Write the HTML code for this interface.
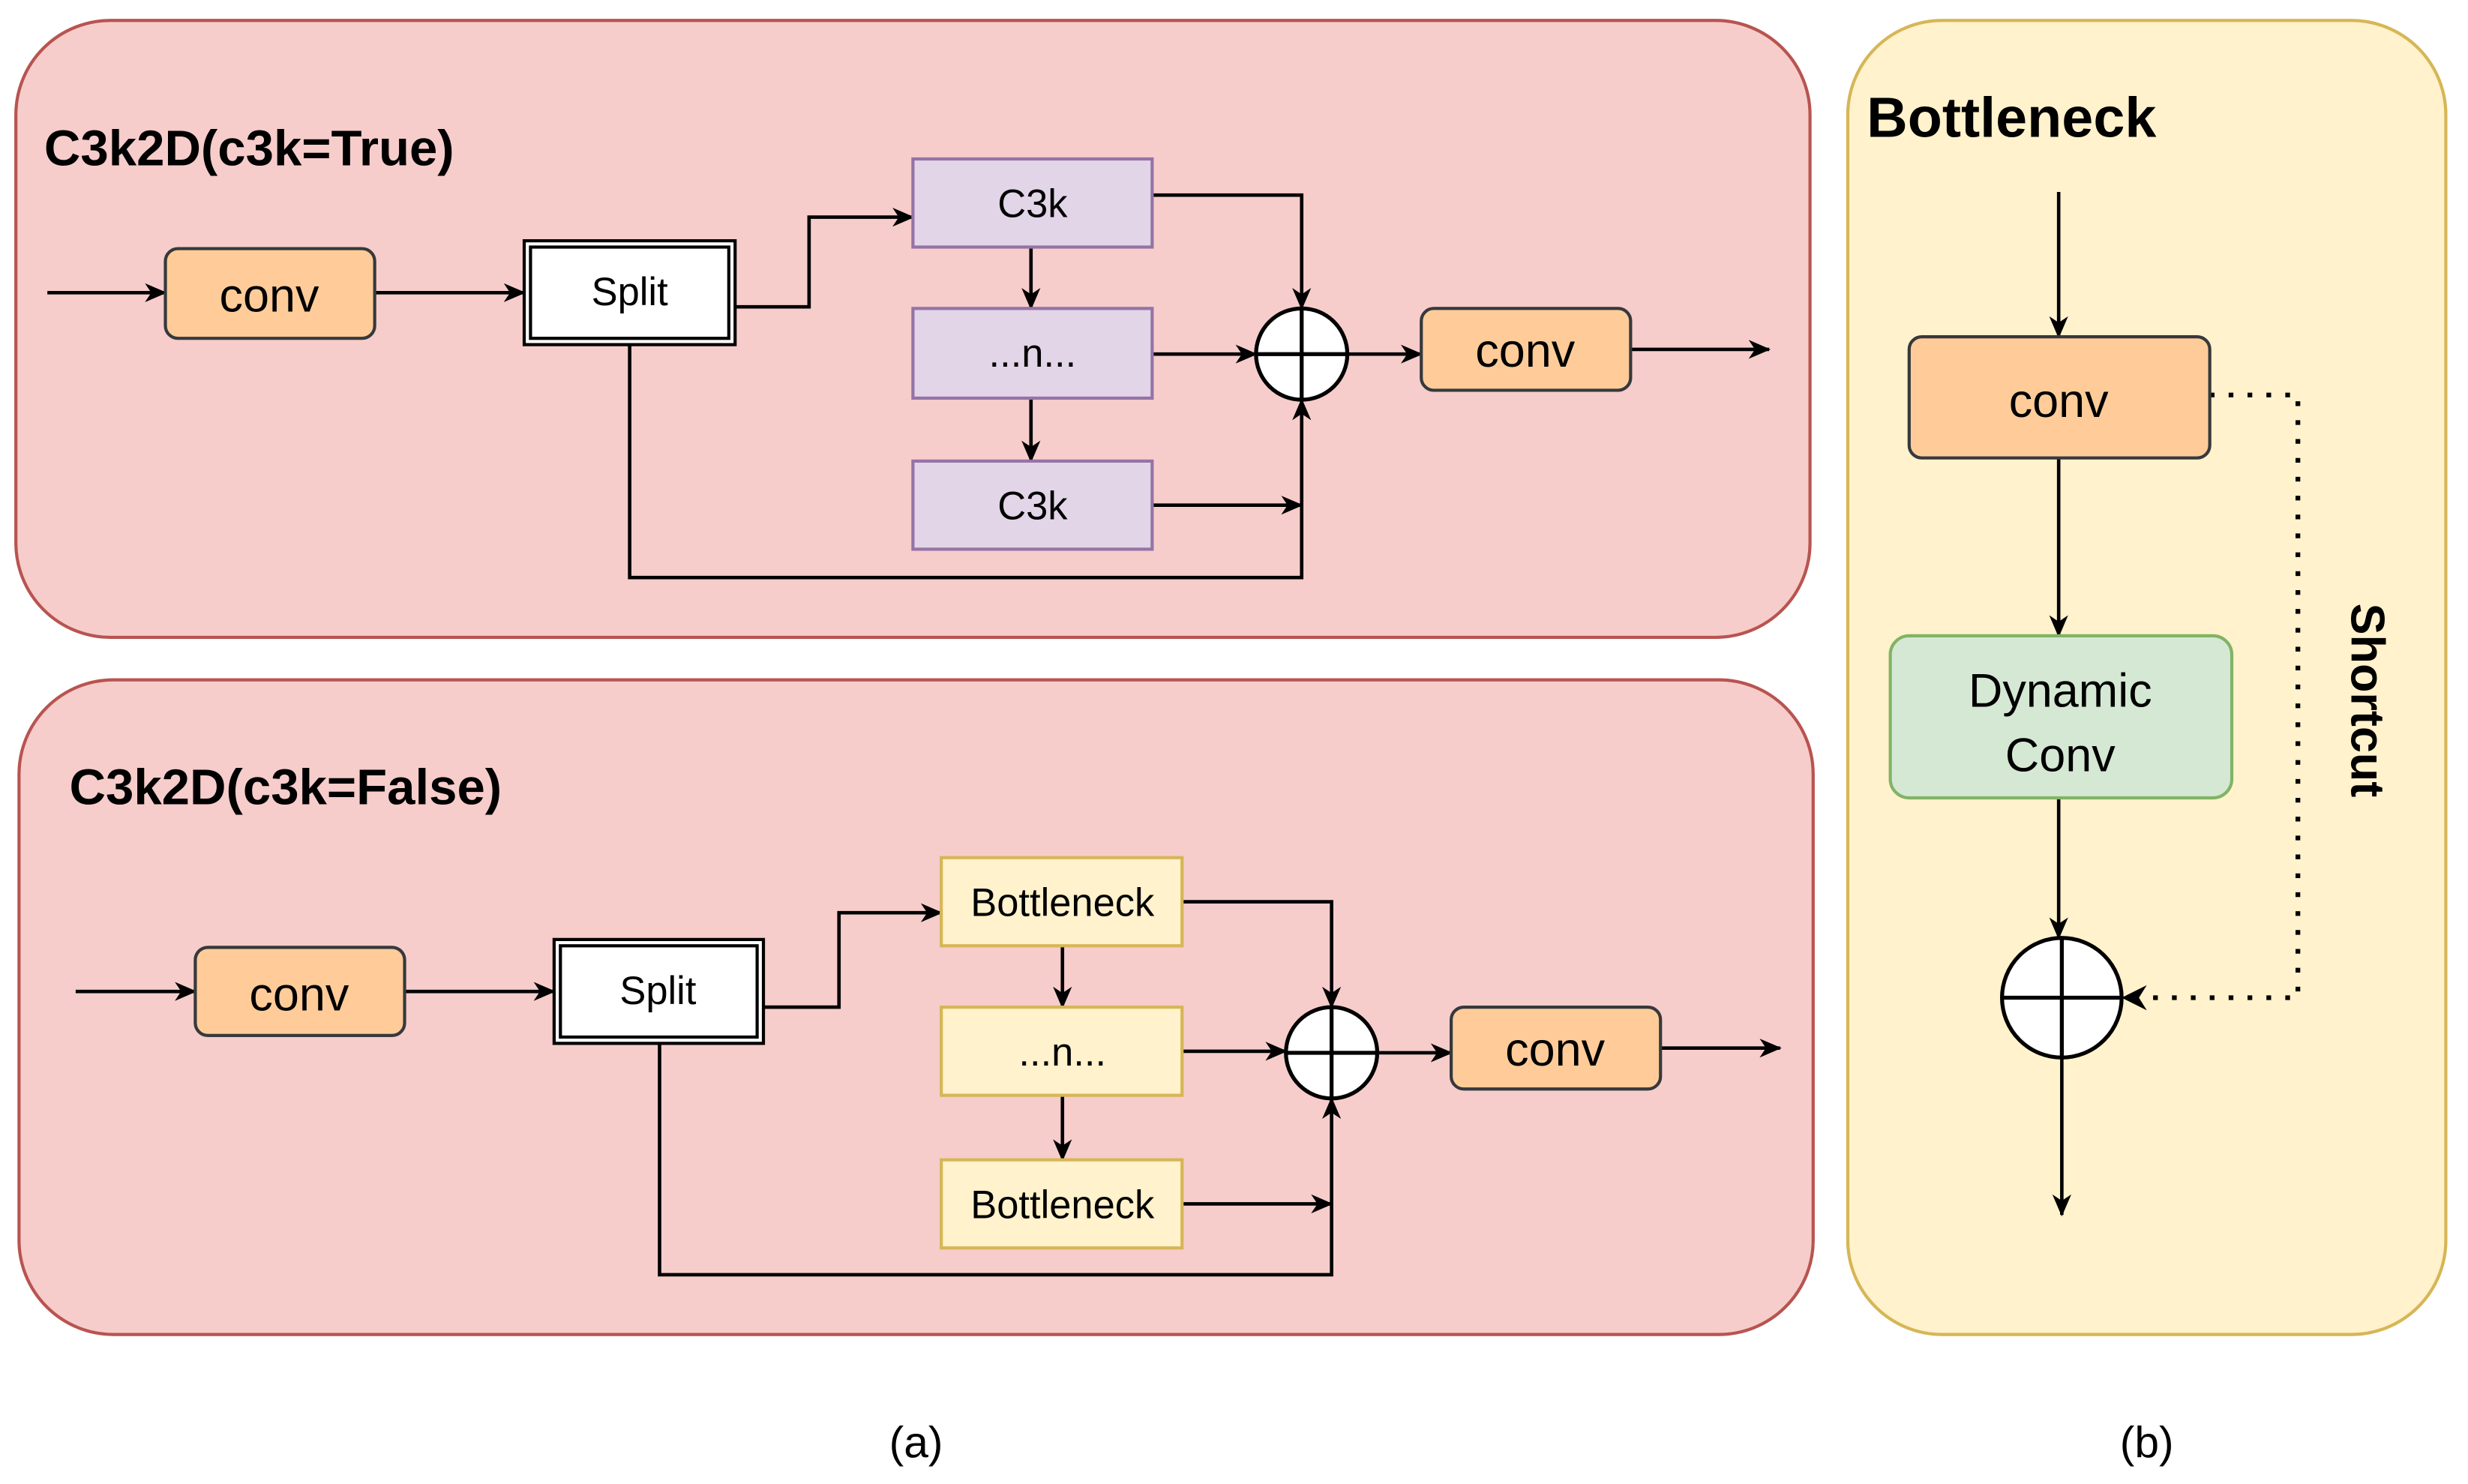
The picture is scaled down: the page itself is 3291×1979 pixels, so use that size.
<!DOCTYPE html>
<html><head><meta charset="utf-8"><style>html,body{margin:0;padding:0;background:#fff}svg{display:block}</style></head>
<body>
<svg width="3291" height="1979" viewBox="0 0 1568 943" xmlns="http://www.w3.org/2000/svg" font-family="'Liberation Sans', sans-serif">
<defs>
<marker id="a" markerWidth="14" markerHeight="14" refX="13" refY="7" orient="auto" markerUnits="userSpaceOnUse"><path d="M0,1 L14,7 L0,13 L4,7 Z" fill="#000"/></marker>
<marker id="b" markerWidth="16" markerHeight="16" refX="15" refY="8" orient="auto" markerUnits="userSpaceOnUse"><path d="M0,0 L16,8 L0,16 L5,8 Z" fill="#000"/></marker>
</defs>
<rect x="10" y="13" width="1140" height="392" rx="60" fill="#f6cdcb" stroke="#b85450" stroke-width="2"/>
<rect x="12" y="432" width="1140" height="416" rx="60" fill="#f6cdcb" stroke="#b85450" stroke-width="2"/>
<rect x="1174" y="13" width="380" height="835" rx="60" fill="#fff2cc" stroke="#d6b656" stroke-width="2"/>
<text x="28" y="105" font-size="32" font-weight="bold">C3k2D(c3k=True)</text>
<text x="44" y="511" font-size="32" font-weight="bold">C3k2D(c3k=False)</text>
<text x="1186" y="87" font-size="36" font-weight="bold">Bottleneck</text>
<g stroke="#000" stroke-width="2.2" fill="none">
<path d="M30,186 H105" marker-end="url(#a)"/>
<path d="M238,186 H333" marker-end="url(#a)"/>
<path d="M467,195 H514 V138 H580" marker-end="url(#a)"/>
<path d="M655,157 V196" marker-end="url(#a)"/>
<path d="M655,253 V293" marker-end="url(#a)"/>
<path d="M732,124 H827 V196" marker-end="url(#a)"/>
<path d="M732,225 H798" marker-end="url(#a)"/>
<path d="M732,321 H827" marker-end="url(#a)"/>
<path d="M400,219 V367 H827 V254" marker-end="url(#a)"/>
<path d="M856,225 H903" marker-end="url(#a)"/>
<path d="M1036,222 H1124" marker-end="url(#a)"/>
<path d="M48,630 H124" marker-end="url(#a)"/>
<path d="M257,630 H352" marker-end="url(#a)"/>
<path d="M485,640 H533 V580 H598" marker-end="url(#a)"/>
<path d="M675,601 V640" marker-end="url(#a)"/>
<path d="M675,696 V737" marker-end="url(#a)"/>
<path d="M751,573 H846 V640" marker-end="url(#a)"/>
<path d="M751,668 H817" marker-end="url(#a)"/>
<path d="M751,765 H846" marker-end="url(#a)"/>
<path d="M419,663 V810 H846 V698" marker-end="url(#a)"/>
<path d="M875,669 H922" marker-end="url(#a)"/>
<path d="M1055,666 H1131" marker-end="url(#a)"/>
<path d="M1308,122 V214" marker-end="url(#a)"/>
<path d="M1308,291 V404" marker-end="url(#a)"/>
<path d="M1308,507 V596" marker-end="url(#a)"/>
<path d="M1310,672 V772" marker-end="url(#a)"/>
<path d="M1404,251 H1460 V634 H1349" stroke-width="3" stroke-dasharray="3,9" marker-end="url(#b)"/>
</g>
<g font-size="30" text-anchor="middle">
<rect x="105" y="158" width="133" height="57" rx="8" fill="#ffcc99" stroke="#36393d" stroke-width="2"/><text x="171" y="198">conv</text>
<rect x="903" y="196" width="133" height="52" rx="8" fill="#ffcc99" stroke="#36393d" stroke-width="2"/><text x="969" y="233">conv</text>
<rect x="124" y="602" width="133" height="56" rx="8" fill="#ffcc99" stroke="#36393d" stroke-width="2"/><text x="190" y="642">conv</text>
<rect x="922" y="640" width="133" height="52" rx="8" fill="#ffcc99" stroke="#36393d" stroke-width="2"/><text x="988" y="677">conv</text>
<rect x="1213" y="214" width="191" height="77" rx="8" fill="#ffcc99" stroke="#36393d" stroke-width="2"/><text x="1308" y="265">conv</text>
<rect x="1201" y="404" width="217" height="103" rx="12" fill="#d5e8d4" stroke="#82b366" stroke-width="2"/><text x="1309" y="449">Dynamic</text><text x="1309" y="490">Conv</text>
</g>
<g font-size="25" text-anchor="middle">
<rect x="333" y="153" width="134" height="66" fill="#fff" stroke="#000" stroke-width="2"/><rect x="337" y="157" width="126" height="58" fill="#fff" stroke="#000" stroke-width="2"/><text x="400" y="194">Split</text>
<rect x="352" y="597" width="133" height="66" fill="#fff" stroke="#000" stroke-width="2"/><rect x="356" y="601" width="125" height="58" fill="#fff" stroke="#000" stroke-width="2"/><text x="418" y="638">Split</text>
<rect x="580" y="101" width="152" height="56" fill="#e1d5e7" stroke="#9673a6" stroke-width="2"/><text x="656" y="138">C3k</text>
<rect x="580" y="196" width="152" height="57" fill="#e1d5e7" stroke="#9673a6" stroke-width="2"/><text x="656" y="233">...n...</text>
<rect x="580" y="293" width="152" height="56" fill="#e1d5e7" stroke="#9673a6" stroke-width="2"/><text x="656" y="330">C3k</text>
<rect x="598" y="545" width="153" height="56" fill="#fff2cc" stroke="#d6b656" stroke-width="2"/><text x="675" y="582">Bottleneck</text>
<rect x="598" y="640" width="153" height="56" fill="#fff2cc" stroke="#d6b656" stroke-width="2"/><text x="675" y="677">...n...</text>
<rect x="598" y="737" width="153" height="56" fill="#fff2cc" stroke="#d6b656" stroke-width="2"/><text x="675" y="774">Bottleneck</text>
</g>
<g fill="#fff" stroke="#000" stroke-width="2.5">
<ellipse cx="827" cy="225" rx="29" ry="29"/><path d="M798,225 H856 M827,196 V254"/>
<ellipse cx="846" cy="669" rx="29" ry="29"/><path d="M817,669 H875 M846,640 V698"/>
<ellipse cx="1310" cy="634" rx="38" ry="38"/><path d="M1272,634 H1348 M1310,596 V672"/>
</g>
<text x="1494" y="445" font-size="30" font-weight="bold" text-anchor="middle" transform="rotate(90 1494 445)">Shortcut</text>
<text x="582" y="926" font-size="28" text-anchor="middle">(a)</text>
<text x="1364" y="926" font-size="28" text-anchor="middle">(b)</text>
</svg>
</body></html>
